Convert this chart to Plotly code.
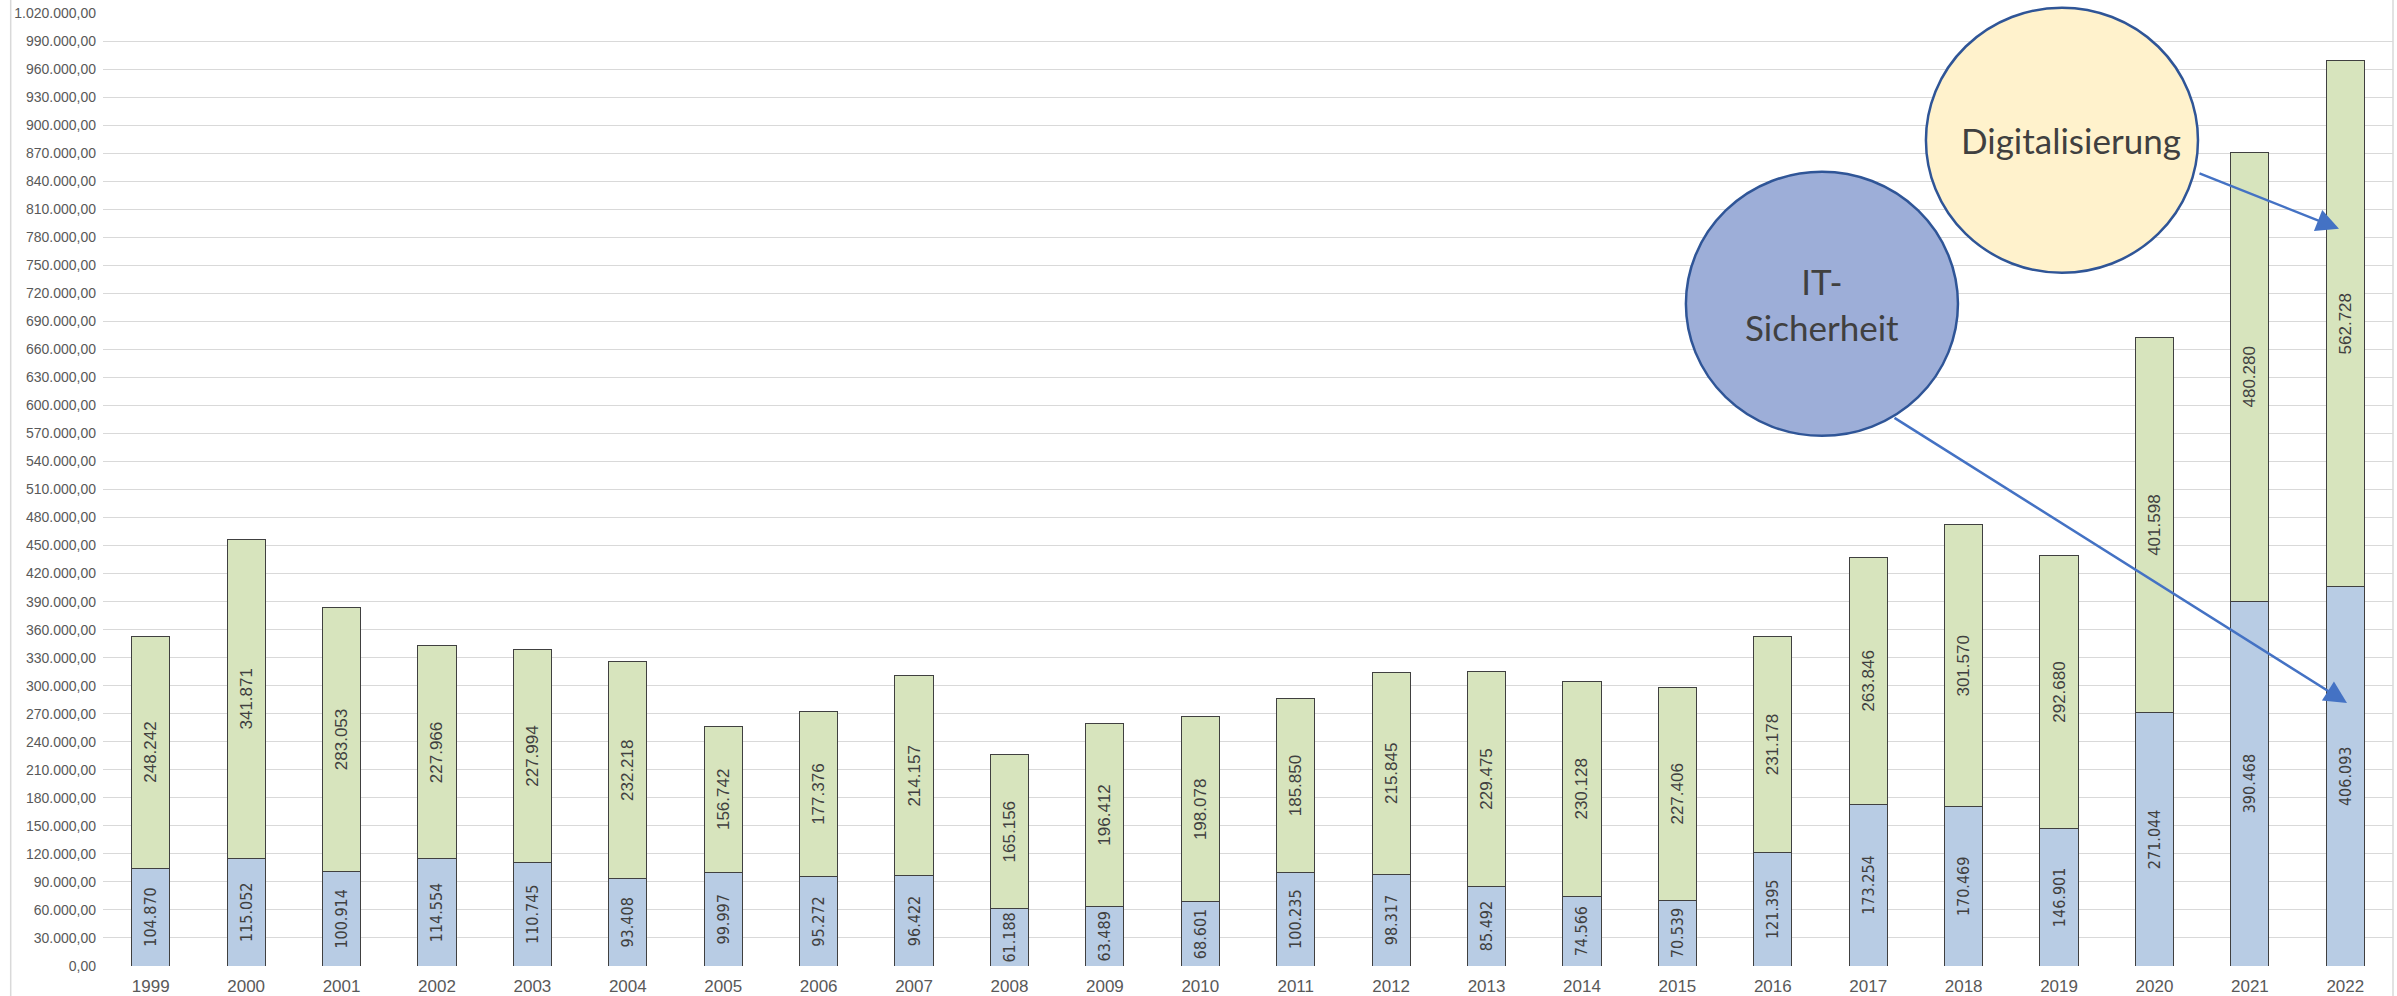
import plotly.graph_objects as go

years = [str(y) for y in range(1999, 2023)]
it_sicherheit = [104870, 115052, 100914, 114554, 110745, 93408, 99997, 95272, 96422, 61188,
                 63489, 68601, 100235, 98317, 85492, 74566, 70539, 121395, 173254, 170469,
                 146901, 271044, 390468, 406093]
digitalisierung = [248242, 341871, 283053, 227966, 227994, 232218, 156742, 177376, 214157, 165156,
                   196412, 198078, 185850, 215845, 229475, 230128, 227406, 231178, 263846, 301570,
                   292680, 401598, 480280, 562728]

W, H = 2397, 996
L, R, T, B = 103.3, 2393, 13.3, 966
PW, PH = R - L, B - T

def px(x):
    return (x - L) / PW

def py(y):
    return (B - y) / PH

blue = "#B8CCE4"
green = "#D7E4BD"
outline = "#404040"
blue_font = dict(family="DejaVu Sans Condensed, Liberation Sans, sans-serif", size=16, color="#404040")
green_font = dict(family="Liberation Sans, Arial, sans-serif", size=17, color="#404040")

fig = go.Figure()
fig.add_trace(go.Bar(
    x=years, y=it_sicherheit, name="IT-Sicherheit",
    marker=dict(color=blue, line=dict(color=outline, width=1)),
    text=it_sicherheit, texttemplate="%{y:,.0f}", textposition="inside",
    insidetextanchor="middle", textangle=-90, textfont=blue_font,
    constraintext="none", hoverinfo="skip",
))
fig.add_trace(go.Bar(
    x=years, y=digitalisierung, name="Digitalisierung",
    marker=dict(color=green, line=dict(color=outline, width=1)),
    text=digitalisierung, texttemplate="%{y:,.0f}", textposition="inside",
    insidetextanchor="middle", textangle=-90, textfont=green_font,
    constraintext="none", hoverinfo="skip",
))

shapes = []
for xb in (11, 2393):
    shapes.append(dict(type="line", xref="paper", yref="paper",
                       x0=px(xb), x1=px(xb), y0=py(0), y1=py(H),
                       line=dict(color="#D9D9D9", width=1.5), layer="below"))
shapes.append(dict(type="circle", xref="paper", yref="paper",
                   x0=px(1926), x1=px(2198), y0=py(273), y1=py(8),
                   fillcolor="#FFF2CC", line=dict(color="#2F5597", width=2.5), layer="above"))
shapes.append(dict(type="circle", xref="paper", yref="paper",
                   x0=px(1686), x1=px(1958), y0=py(436), y1=py(172),
                   fillcolor="#9DAED8", line=dict(color="#2F5597", width=2.5), layer="above"))

bubble_font = dict(family="Lato, Carlito, Calibri, sans-serif", size=35, color="#404040")
annotations = [
    dict(xref="paper", yref="paper", x=px(2071), y=py(140), text="Digitalisierung",
         showarrow=False, font=bubble_font, xanchor="center", yanchor="middle"),
    dict(xref="paper", yref="paper", x=px(1822), y=py(304), text="IT-<br>Sicherheit",
         showarrow=False, font=bubble_font, xanchor="center", yanchor="middle", align="center"),
    dict(xref="paper", yref="paper", x=px(2339), y=py(229), text="",
         showarrow=True, arrowhead=2, arrowsize=1.8, arrowwidth=2.5, arrowcolor="#4472C4",
         ax=2198 - 2339, ay=173 - 229, axref="pixel", ayref="pixel", standoff=0, startstandoff=0),
    dict(xref="paper", yref="paper", x=px(2347), y=py(703), text="",
         showarrow=True, arrowhead=2, arrowsize=1.8, arrowwidth=2.5, arrowcolor="#4472C4",
         ax=1893 - 2347, ay=417 - 703, axref="pixel", ayref="pixel", standoff=0, startstandoff=0),
]

fig.update_layout(
    width=W, height=H, autosize=False,
    margin=dict(l=L, r=W - R, t=T, b=H - B, pad=0, autoexpand=False),
    barmode="stack", bargap=0.6,
    separators=",.",
    showlegend=False,
    paper_bgcolor="white", plot_bgcolor="white",
    shapes=shapes, annotations=annotations,
    font=dict(family="Liberation Sans, Arial", color="#595959"),
)
fig.update_xaxes(
    type="category", showgrid=False, zeroline=False, showline=False, ticks="",
    automargin=False, ticklabelstandoff=8,
    tickfont=dict(family="Liberation Sans, Arial", size=17, color="#595959"),
)
fig.update_yaxes(
    range=[0, 1020000], dtick=30000, tick0=0, tickformat=",.2f",
    showgrid=True, gridcolor="#D9D9D9", gridwidth=1, zeroline=False, showline=False,
    ticks="", ticklabelstandoff=6, automargin=False,
    tickfont=dict(family="Liberation Sans, Arial", size=14, color="#595959"),
)

fig.write_html(
    "out.html",
    config={"displayModeBar": False},
    post_script="document.body.style.margin='0';document.body.style.overflow='hidden';",
)
